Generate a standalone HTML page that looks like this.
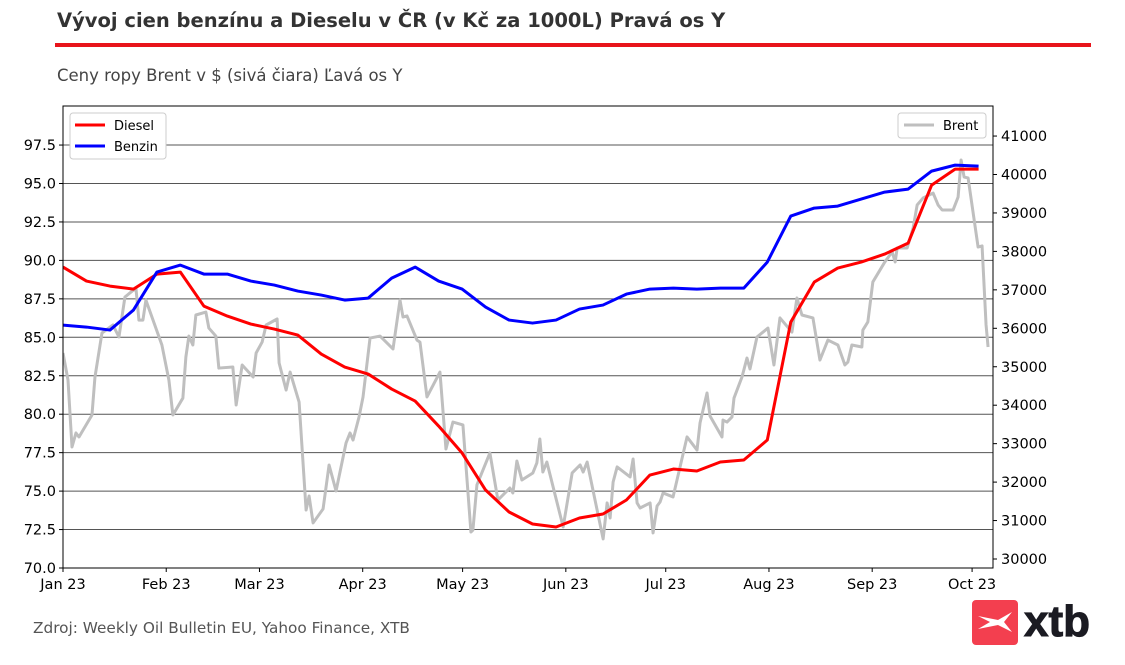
<!DOCTYPE html>
<html><head><meta charset="utf-8"><style>
body{margin:0;background:#fff;width:1125px;height:665px;overflow:hidden;font-family:"DejaVu Sans","Liberation Sans",sans-serif;}
.abs{position:absolute}
</style></head><body>
<div class="abs" style="left:57px;top:9px;font-size:19.5px;font-weight:bold;color:#333;">Vývoj cien benzínu a Dieselu v ČR (v Kč za 1000L) Pravá os Y</div>
<div class="abs" style="left:55px;top:43px;width:1036px;height:4px;background:#e8141b;"></div>
<div class="abs" style="left:57px;top:66px;font-size:16.5px;color:#444;">Ceny ropy Brent v $ (sivá čiara) Ľavá os Y</div>
<div class="abs" style="left:33px;top:619px;font-size:15.3px;color:#555;">Zdroj: Weekly Oil Bulletin EU, Yahoo Finance, XTB</div>
<div class="abs" style="left:972px;top:600px;">
<svg width="140" height="46"><rect x="0" y="0" width="46" height="45" rx="4" fill="#f33f4f"/><path d="M6 16 L26 20 L40 12 L32 22 L40 32 L26 25 L6 29 L18 22 Z" fill="#fff"/><text x="52" y="36" font-family="Liberation Sans, sans-serif" font-weight="bold" font-size="44" fill="#1b1b22" stroke="#1b1b22" stroke-width="1">xtb</text></svg>
</div>
<svg id="chart" class="abs" style="left:0;top:0" width="1125" height="665"></svg>
<script>
const brentDays=[0,1.5,2.7,3.9,4.8,8.7,9.6,11.7,15,16.8,18.6,21.9,22.8,24,24.9,29.7,31.2,31.8,33,36,36.9,37.8,39,39.9,42.9,43.8,45.9,46.8,51,52,53.8,57.1,58,59.8,61,64.3,64.9,67,68.2,70.9,73,73.9,75.1,78.1,79.9,82,85,86.2,87.1,88.9,90.1,92.2,95.2,99.1,101.2,102.1,103.3,106.3,107.2,109.3,113.2,115,117.1,120.1,122.5,123.1,124.3,128.2,130.6,134.2,135.1,136.3,137.8,141.1,142.3,143.2,144.1,145.3,150.2,152.9,155.3,156.2,157.4,162.2,163.4,164.3,165.2,166.4,170.3,171.2,172.4,173.3,176.3,177.2,178.4,179.3,180.2,183.2,185.3,187.4,190.4,191.3,193.4,194.3,197.9,198.2,199.4,200.9,201.5,203.9,205.4,206.3,208.4,211.7,213.5,215.3,218.9,220.4,221.9,225.2,227.3,229.7,232.7,234.8,235.7,236.9,239.9,240.2,241.7,243.2,246.8,249,249.9,250.5,253.5,255.3,256.5,258.3,261.3,262.8,264,267.3,268.8,269.7,270.6,271.8,274.8,276,277.2,277.8];
const brentValues=[83.98,82.22,77.87,78.78,78.52,79.95,82.42,85.28,85.8,85.02,87.62,88.2,86.12,86.12,87.42,84.5,82.87,82.22,79.95,81.05,83.72,85.08,84.5,86.45,86.64,85.6,85.08,83,83.07,80.6,83.2,82.42,83.98,84.69,85.8,86.19,83.33,81.57,82.74,80.79,73.77,74.68,72.93,73.84,76.7,75.01,78.13,78.78,78.32,79.82,81.12,84.95,85.08,84.24,87.42,86.32,86.39,84.82,84.69,81.12,82.74,77.74,79.49,79.3,72.34,72.47,75.4,77.48,74.42,75.2,74.88,76.96,75.72,76.18,76.83,78.39,76.24,76.89,72.67,76.18,76.7,76.24,76.89,71.89,74.23,73.25,75.59,76.57,75.92,77.09,74.23,73.9,74.23,72.28,74.03,74.29,74.88,74.62,76.57,78.52,77.67,79.43,81.38,79.88,78.52,79.62,79.49,79.82,81.05,82.42,83.65,82.94,85.02,85.6,83.2,86.26,85.34,87.56,86.45,86.26,83.52,84.82,84.5,83.2,83.39,84.5,84.37,85.47,86,88.6,89.9,90.55,89.9,90.81,90.81,92.11,93.6,94.06,94.38,93.6,93.28,93.28,94.12,96.53,95.42,95.36,90.87,90.94,85.8,84.37];
const dieselValues=[37592,37228,37098,37020,37410,37462,36578,36318,36110,35980,35824,35330,34992,34810,34420,34108,33458,32756,31794,31222,30910,30832,31066,31170,31534,32184,32340,32288,32522,32574,33094,36162,37202,37566,37722,37930,38216,39724,40140,40140];
const benzinValues=[36084,36032,35954,36474,37462,37644,37410,37410,37228,37124,36968,36864,36734,36786,37306,37592,37228,37020,36552,36214,36136,36214,36500,36604,36890,37020,37046,37020,37046,37046,37722,38918,39126,39178,39360,39542,39620,40088,40244,40218];
const weekStep=7.05;
const leftTicks=[70,72.5,75,77.5,80,82.5,85,87.5,90,92.5,95,97.5];
const leftTickLabels=["70.0","72.5","75.0","77.5","80.0","82.5","85.0","87.5","90.0","92.5","95.0","97.5"];
const rightTicks=[30000,31000,32000,33000,34000,35000,36000,37000,38000,39000,40000,41000];
const monthDays=[0,31,59,90,120,151,181,212,243,273];
const monthLabels=["Jan 23","Feb 23","Mar 23","Apr 23","May 23","Jun 23","Jul 23","Aug 23","Sep 23","Oct 23"];

const L=63,R=993,T=106,B=568;
const x=d=>L+d*3.33;
const yL=v=>B-(v-70)*15.38;
const yR=v=>559-(v-30000)*0.03845;
const svg=document.getElementById('chart');
const NS='http://www.w3.org/2000/svg';
function mk(tag,attrs,parent){const e=document.createElementNS(NS,tag);for(const k in attrs)e.setAttribute(k,attrs[k]);(parent||svg).appendChild(e);return e;}
const defs=mk('defs',{});const cp=mk('clipPath',{id:'clip'},defs);mk('rect',{x:L,y:T,width:R-L,height:B-T},cp);
leftTicks.forEach((t,i)=>{
  const g=mk('line',{x1:L,x2:R,y1:yL(t),y2:yL(t),stroke:'#555','stroke-width':1});
  
  
  mk('line',{x1:L-4,x2:L,y1:yL(t),y2:yL(t),stroke:'#000'});
  const tx=mk('text',{x:L-7,y:yL(t)+5,'text-anchor':'end','font-size':14.5,fill:'#000'});tx.textContent=leftTickLabels[i];
  
  
});
rightTicks.forEach(t=>{
  mk('line',{x1:R,x2:R+4,y1:yR(t),y2:yR(t),stroke:'#000'});
  const tx=mk('text',{x:R+8,y:yR(t)+5,'font-size':14.5,fill:'#000'});tx.textContent=t;
  
  
});
monthDays.forEach((d,i)=>{
  mk('line',{x1:x(d),x2:x(d),y1:B,y2:B+4,stroke:'#000'});
  const tx=mk('text',{x:x(d),y:B+21,'text-anchor':'middle','font-size':14.5,fill:'#000'});tx.textContent=monthLabels[i];
  
  
});
const g=mk('g',{'clip-path':'url(#clip)'});
const bp=mk('polyline',{points:brentDays.map((d,i)=>x(d)+','+yL(brentValues[i])).join(' '),fill:'none',stroke:'#bfbfbf','stroke-width':3,'stroke-linejoin':'round'},g);


const dp=mk('polyline',{points:dieselValues.map((v,i)=>x(i*weekStep)+','+yR(v)).join(' '),fill:'none',stroke:'#ff0000','stroke-width':3,'stroke-linejoin':'round'},g);


const np=mk('polyline',{points:benzinValues.map((v,i)=>x(i*weekStep)+','+yR(v)).join(' '),fill:'none',stroke:'#0000ff','stroke-width':3,'stroke-linejoin':'round'},g);


const frame=mk('rect',{x:L,y:T,width:R-L,height:B-T,fill:'none',stroke:'#000','stroke-width':1});


const lg1=mk('g',{});


mk('rect',{x:70,y:113,width:96,height:46,rx:3,fill:'#fff',stroke:'#ccc'},lg1);
mk('line',{x1:75,x2:105,y1:125,y2:125,stroke:'#ff0000','stroke-width':3},lg1);
let t1=mk('text',{x:114,y:130,'font-size':13},lg1);t1.textContent='Diesel';
mk('line',{x1:75,x2:105,y1:146,y2:146,stroke:'#0000ff','stroke-width':3},lg1);
let t2=mk('text',{x:114,y:151,'font-size':13},lg1);t2.textContent='Benzin';
const lg2=mk('g',{});


mk('rect',{x:898,y:113,width:88,height:25,rx:3,fill:'#fff',stroke:'#ccc'},lg2);
mk('line',{x1:904,x2:934,y1:125,y2:125,stroke:'#bfbfbf','stroke-width':3},lg2);
let t3=mk('text',{x:943,y:130,'font-size':13},lg2);t3.textContent='Brent';
</script>
</body></html>
